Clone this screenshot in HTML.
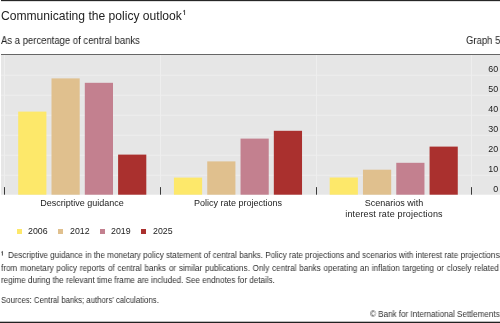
<!DOCTYPE html>
<html><head><meta charset="utf-8"><style>
html,body{margin:0;padding:0;background:#fff;width:500px;height:323px;overflow:hidden;position:relative}
.t{position:absolute;will-change:transform;font-family:"Liberation Sans",sans-serif;color:#222;white-space:nowrap;line-height:1}
.c{transform:translateX(-50%)}
.fn{font-size:8.6px;transform:scaleX(0.938);transform-origin:0 0;color:#2e2e2e}
</style></head><body>
<svg width="500" height="323" viewBox="0 0 500 323" style="position:absolute;left:0;top:0;will-change:transform">
<rect x="1" y="0" width="499" height="1.15" fill="#262626"/>
<rect x="1" y="54" width="499" height="1" fill="#666"/>
<rect x="1" y="55" width="499" height="139.7" fill="#e6e6e6"/>
<rect x="1" y="174.75" width="499" height="1" fill="#eeeeee"/><rect x="1" y="154.75" width="499" height="1" fill="#eeeeee"/><rect x="1" y="134.75" width="499" height="1" fill="#eeeeee"/><rect x="1" y="114.75" width="499" height="1" fill="#eeeeee"/><rect x="1" y="94.75" width="499" height="1" fill="#eeeeee"/><rect x="1" y="74.75" width="499" height="1" fill="#eeeeee"/>
<rect x="4" y="55" width="1" height="139.7" fill="#eeeeee"/><rect x="160" y="55" width="1" height="139.7" fill="#eeeeee"/><rect x="316" y="55" width="1" height="139.7" fill="#eeeeee"/><rect x="471" y="55" width="1" height="139.7" fill="#eeeeee"/>
<rect x="18.20" y="111.60" width="28.2" height="83.10" fill="#fde86a"/><rect x="51.50" y="78.40" width="28.2" height="116.30" fill="#e0c08e"/><rect x="84.80" y="82.80" width="28.2" height="111.90" fill="#c3808f"/><rect x="118.10" y="154.60" width="28.2" height="40.10" fill="#aa302e"/><rect x="173.93" y="177.60" width="28.2" height="17.10" fill="#fde86a"/><rect x="207.23" y="161.40" width="28.2" height="33.30" fill="#e0c08e"/><rect x="240.53" y="138.60" width="28.2" height="56.10" fill="#c3808f"/><rect x="273.83" y="130.80" width="28.2" height="63.90" fill="#aa302e"/><rect x="329.67" y="177.50" width="28.2" height="17.20" fill="#fde86a"/><rect x="362.97" y="169.70" width="28.2" height="25.00" fill="#e0c08e"/><rect x="396.27" y="162.80" width="28.2" height="31.90" fill="#c3808f"/><rect x="429.57" y="146.60" width="28.2" height="48.10" fill="#aa302e"/>
<rect x="4.00" y="187.1" width="1" height="7.6" fill="#3a3a3a"/><rect x="160.00" y="187.1" width="1" height="7.6" fill="#3a3a3a"/><rect x="316.00" y="187.1" width="1" height="7.6" fill="#3a3a3a"/><rect x="471.00" y="187.1" width="1" height="7.6" fill="#3a3a3a"/>
<g font-family="Liberation Sans" font-size="9.3" fill="#222" transform="translate(498.1,0) scale(0.96,1)"><text x="0" y="191.9" text-anchor="end">0</text><text x="0" y="171.9" text-anchor="end">10</text><text x="0" y="151.9" text-anchor="end">20</text><text x="0" y="131.9" text-anchor="end">30</text><text x="0" y="111.9" text-anchor="end">40</text><text x="0" y="91.9" text-anchor="end">50</text><text x="0" y="71.9" text-anchor="end">60</text></g>
<rect x="0" y="321.7" width="500" height="1.3" fill="#222"/>
<path d="M184.55 10.1V15M184.55 10.3L183.1 11.4" stroke="#222" stroke-width="0.8" fill="none"/>
<path d="M2.4 251.4V255.6M2.4 251.5L1.4 252.3" stroke="#222" stroke-width="0.8" fill="none"/>
</svg>
<div class="t" style="left:0.8px;top:9.7px;font-size:12.1px">Communicating the policy outlook</div>
<div class="t" style="left:1px;top:34.9px;font-size:10.6px;transform:scaleX(0.897);transform-origin:0 0">As a percentage of central banks</div>
<div class="t" style="left:466.2px;top:34.9px;font-size:10.6px;transform:scaleX(0.897);transform-origin:0 0">Graph 5</div>
<div class="t c" style="left:82.2px;top:198.5px;font-size:9px">Descriptive guidance</div>
<div class="t c" style="left:238px;top:198.5px;font-size:9px">Policy rate projections</div>
<div class="t c" style="left:393.8px;top:197.5px;font-size:9px;text-align:center;line-height:11.4px">Scenarios with<br><span style="letter-spacing:0.16px">interest rate projections</span></div>
<div style="position:absolute;left:16.5px;top:229.2px;width:5.4px;height:5.2px;background:#fde86a"></div><div class="t" style="left:27.8px;top:227.1px;font-size:8.8px">2006</div><div style="position:absolute;left:58px;top:229.2px;width:5.4px;height:5.2px;background:#e0c08e"></div><div class="t" style="left:69.7px;top:227.1px;font-size:8.8px">2012</div><div style="position:absolute;left:99.5px;top:229.2px;width:5.4px;height:5.2px;background:#c3808f"></div><div class="t" style="left:110.5px;top:227.1px;font-size:8.8px">2019</div><div style="position:absolute;left:141px;top:229.2px;width:5.4px;height:5.2px;background:#aa302e"></div><div class="t" style="left:152.7px;top:227.1px;font-size:8.8px">2025</div>
<div class="t fn" style="left:7.8px;top:251.2px;word-spacing:0.05px">Descriptive guidance in the monetary policy statement of central banks. Policy rate projections and scenarios with interest rate projections</div>
<div class="t fn" style="left:1px;top:263.7px;word-spacing:0.66px">from monetary policy reports of central banks or similar publications. Only central banks operating an inflation targeting or closely related</div>
<div class="t fn" style="left:1px;top:276.1px">regime during the relevant time frame are included. See endnotes for details.</div>
<div class="t fn" style="left:1px;top:295.5px;transform:scaleX(0.907)">Sources: Central banks; authors’ calculations.</div>
<div class="t fn" style="left:370px;top:309.5px">© Bank for International Settlements</div>
</body></html>
